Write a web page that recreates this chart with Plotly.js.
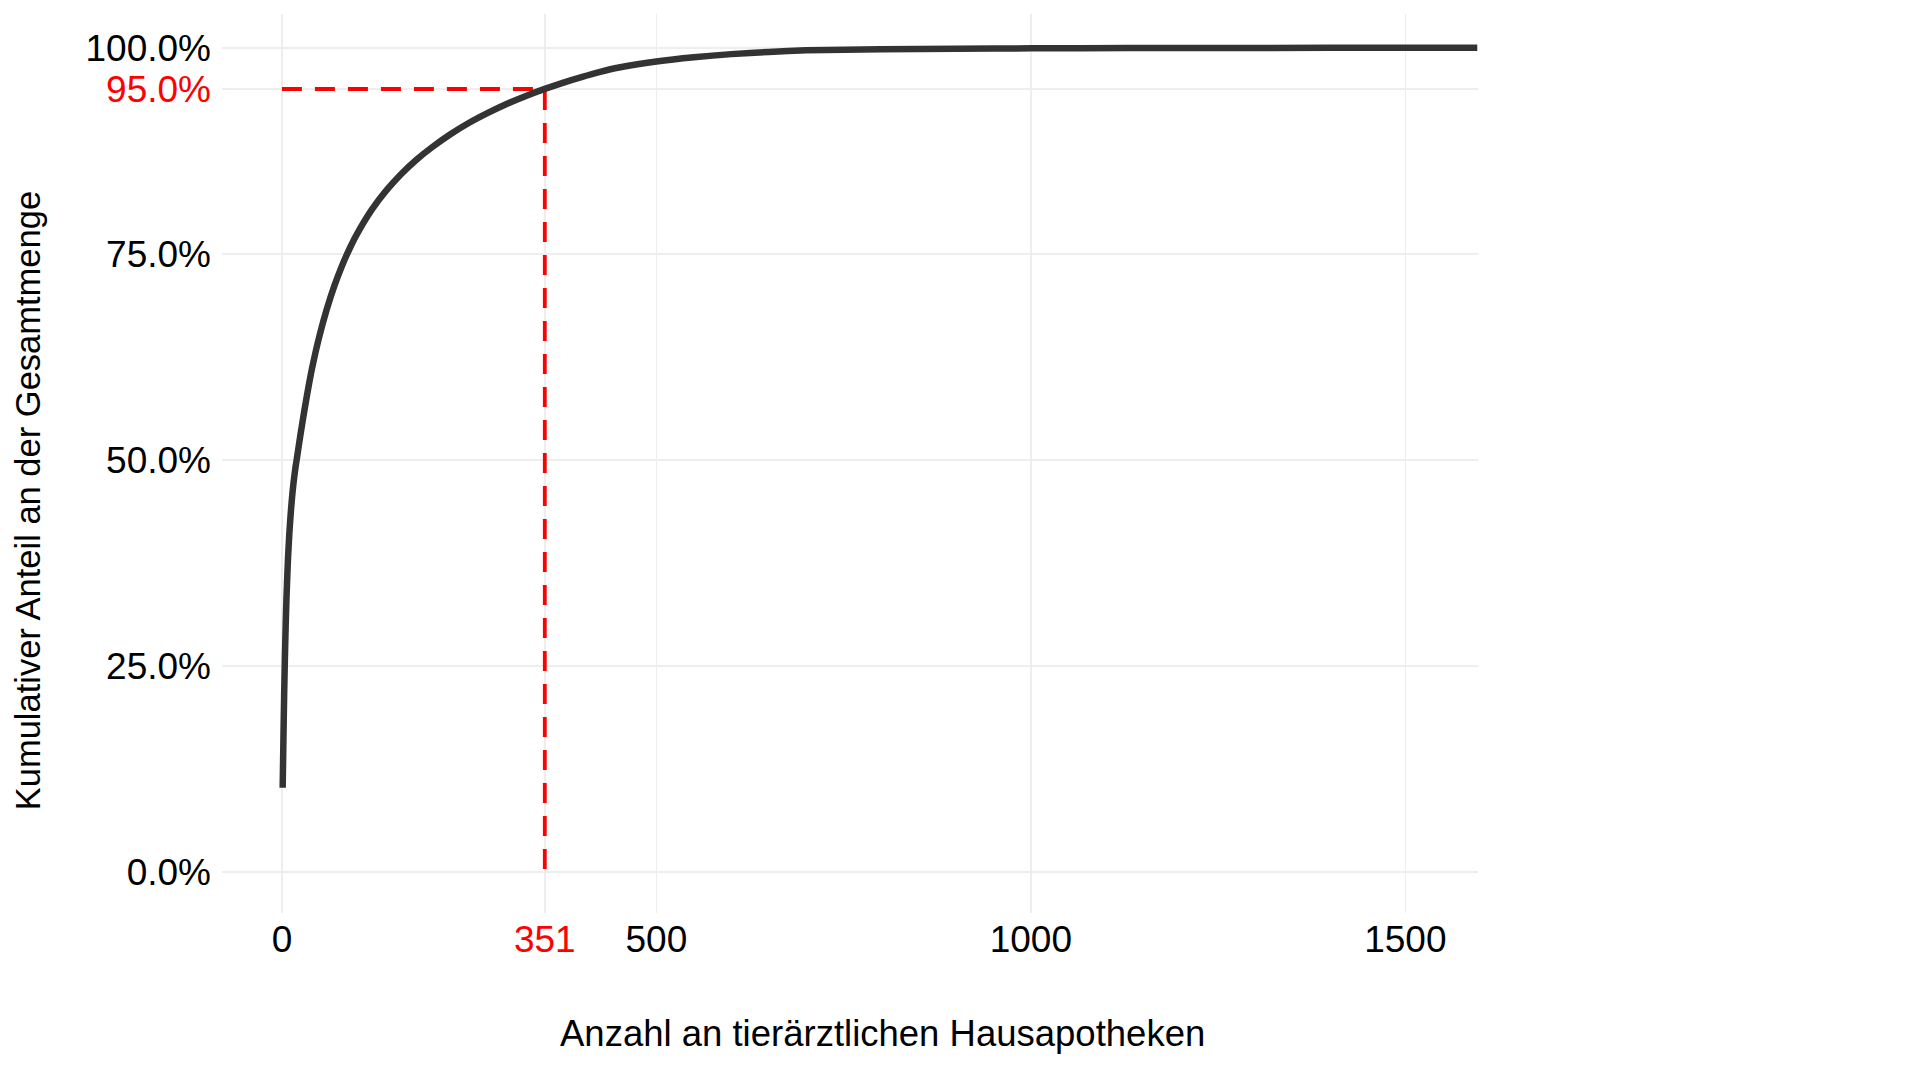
<!DOCTYPE html>
<html>
<head>
<meta charset="utf-8">
<script src="https://cdn.plot.ly/plotly-3.0.1.min.js"></script>
<style>html,body{margin:0;padding:0;background:#fff;}#chart{width:1920px;height:1065px;}</style>
</head>
<body>
<div id="chart"></div>
<script>
// Cumulative share curve (x = number of pharmacies, y = cumulative share in %)
const apothekenAnzahl = [1, 2, 3, 4, 5, 6, 8, 10, 12, 14, 16, 18, 20, 25, 30, 35, 40, 50, 60, 70, 80, 90, 100, 120, 140, 160, 180, 200, 225, 250, 275, 300, 325, 351, 375, 400, 425, 450, 500, 550, 600, 650, 700, 800, 900, 1000, 1130, 1300, 1500, 1596];
const kumulAnteil     = [10.2, 16, 21.5, 26, 29.8, 33, 37.8, 41.2, 43.8, 45.9, 47.6, 49, 50.2, 53.2, 56, 58.6, 61, 65, 68.3, 71.1, 73.5, 75.55, 77.35, 80.35, 82.75, 84.75, 86.45, 87.9, 89.5, 90.9, 92.1, 93.18, 94.13, 95.01, 95.75, 96.45, 97.08, 97.6, 98.33, 98.85, 99.23, 99.5, 99.7, 99.82, 99.88, 99.93, 99.96, 99.98, 100, 100];

// 95% threshold marker
const schwelleAnteil = 95;
const schwelleAnzahl = 351;

// Axis ticks
const xTickVals = [0, 351, 500, 1000, 1500];
const xTickText = ['0', '<span style="color:#ff0000">351</span>', '500', '1000', '1500'];
const yTickVals = [0, 25, 50, 75, 95, 100];
const yTickText = ['0.0%', '25.0%', '50.0%', '75.0%', '<span style="color:#ff0000">95.0%</span>', '100.0%'];

const xTitle = 'Anzahl an tierärztlichen Hausapotheken';
const yTitle = 'Kumulativer Anteil an der Gesamtmenge';

const traces = [
  {
    x: [0, schwelleAnzahl, schwelleAnzahl],
    y: [schwelleAnteil, schwelleAnteil, 0],
    mode: 'lines',
    line: {color: '#ff0000', width: 3.8, dash: '20px,13px'},
    hoverinfo: 'skip',
    showlegend: false
  },
  {
    x: apothekenAnzahl,
    y: kumulAnteil,
    mode: 'lines',
    line: {color: '#333333', width: 6.5, shape: 'spline', smoothing: 0.5},
    showlegend: false
  }
];

const fontFam = 'Liberation Sans, Arial, sans-serif';

const layout = {
  width: 1920,
  height: 1065,
  margin: {l: 222, r: 442, t: 14, b: 152},
  paper_bgcolor: '#ffffff',
  plot_bgcolor: '#ffffff',
  font: {family: fontFam, color: '#000000'},
  showlegend: false,
  xaxis: {
    range: [-80, 1597],
    tickvals: xTickVals,
    ticktext: xTickText,
    tickfont: {family: fontFam, size: 37, color: '#000000'},
    showgrid: true,
    gridcolor: '#eeeeee',
    gridwidth: 1.5,
    zeroline: false,
    showline: false,
    ticks: '',
    ticklabelstandoff: 1
  },
  yaxis: {
    range: [-5, 104.1],
    tickvals: yTickVals,
    ticktext: yTickText,
    tickfont: {family: fontFam, size: 37, color: '#000000'},
    showgrid: true,
    gridcolor: '#eeeeee',
    gridwidth: 1.5,
    zeroline: false,
    showline: false,
    ticks: '',
    ticklabelstandoff: 10
  },
  annotations: [
    {
      text: xTitle, xref: 'paper', yref: 'paper',
      x: 0.526, y: -0.1335, xanchor: 'center', yanchor: 'middle',
      showarrow: false, font: {family: fontFam, size: 36.5, color: '#000000'}
    },
    {
      text: yTitle, xref: 'paper', yref: 'paper',
      x: -0.1545, y: 0.459, xanchor: 'center', yanchor: 'middle', textangle: -90,
      showarrow: false, font: {family: fontFam, size: 34.5, color: '#000000'}
    }
  ]
};

Plotly.newPlot('chart', traces, layout, {displayModeBar: false, staticPlot: true});
</script>
</body>
</html>
